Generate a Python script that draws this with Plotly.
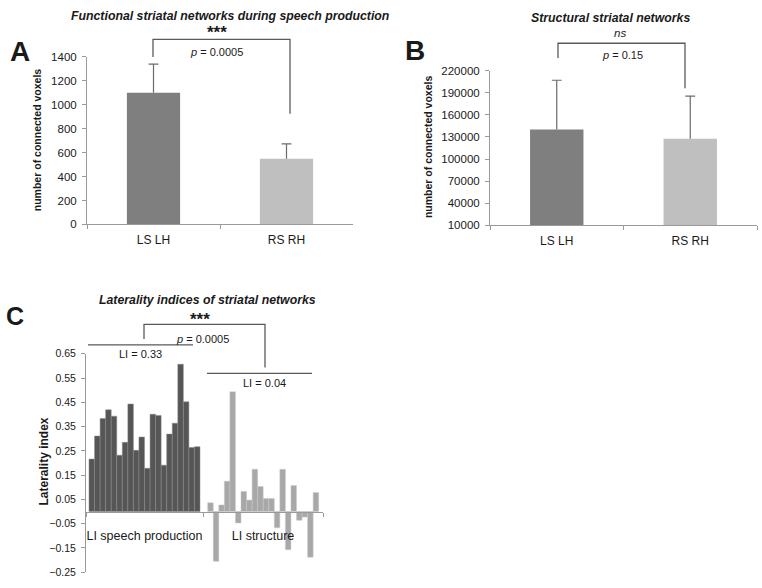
import numpy as np
import plotly.graph_objects as go

W, H = 762, 588

# ---------------- data ----------------
groups_ab = ["LS LH", "RS RH"]
func_means = [1100, 550]
func_err = [240, 123]
struct_means = [140000, 127500]
struct_err = [67000, 58000]

li_speech = [0.216, 0.311, 0.383, 0.419, 0.393, 0.232, 0.285, 0.443, 0.252, 0.307,
             0.178, 0.401, 0.396, 0.191, 0.319, 0.364, 0.607, 0.452, 0.264, 0.267]
li_structure = [0.036, -0.205, 0.027, 0.125, 0.493, -0.047, 0.083, 0.047, 0.174, 0.103,
                0.054, 0.054, -0.067, 0.174, -0.157, 0.107, -0.036, -0.023, -0.188, 0.078]
c_categories = ["LI speech production", "LI structure"]

A_ticks = list(range(0, 1401, 200))
B_ticks = list(range(10000, 220001, 30000))
C_ticks = [round(-0.25 + 0.1 * k, 2) for k in range(10)]

# ---------------- helpers ----------------
def px(x):
    return x / W

def py(y):
    return 1 - y / H

FONT = "Liberation Sans, Arial, sans-serif"
TXT = "#1a1a1a"
AXC = "#9a9a9a"
DARK_A, LIGHT_A = "#7f7f7f", "#bfbfbf"
DARK_C, LIGHT_C = "#565656", "#a8a8a8"
BRK = "#5a5a5a"
ERRC = "#6a6a6a"

fig = go.Figure()

# Panel A
fig.add_trace(go.Bar(
    x=groups_ab, y=func_means, width=0.4,
    marker=dict(color=[DARK_A, LIGHT_A], line=dict(width=0)),
    error_y=dict(type="data", array=func_err, arrayminus=[0, 0], symmetric=False,
                 color=ERRC, thickness=1.2, width=0),
    xaxis="x", yaxis="y", showlegend=False, hoverinfo="skip"))
fig.add_trace(go.Scatter(
    x=groups_ab, y=[m + e for m, e in zip(func_means, func_err)], mode="markers",
    marker=dict(symbol="line-ew", size=7, line=dict(color=ERRC, width=1.2)),
    xaxis="x", yaxis="y", showlegend=False, hoverinfo="skip"))

# Panel B
fig.add_trace(go.Bar(
    x=groups_ab, y=struct_means, width=0.4,
    marker=dict(color=[DARK_A, LIGHT_A], line=dict(width=0)),
    error_y=dict(type="data", array=struct_err, arrayminus=[0, 0], symmetric=False,
                 color=ERRC, thickness=1.2, width=0),
    xaxis="x2", yaxis="y2", showlegend=False, hoverinfo="skip"))
fig.add_trace(go.Scatter(
    x=groups_ab, y=[m + e for m, e in zip(struct_means, struct_err)], mode="markers",
    marker=dict(symbol="line-ew", size=7, line=dict(color=ERRC, width=1.2)),
    xaxis="x2", yaxis="y2", showlegend=False, hoverinfo="skip"))

# Panel C  (numeric positions: one unit per bar)
unit_px = 5.55
c_left, c_right = 86, 323
c_range = (c_right - c_left) / unit_px
dark_start = (89 - c_left) / unit_px
light_start = (207.7 - c_left) / unit_px
x_dark = dark_start + np.arange(len(li_speech)) + 0.5
x_light = light_start + np.arange(len(li_structure)) + 0.5
boundary = (203 - c_left) / unit_px

fig.add_trace(go.Bar(
    x=x_dark, y=li_speech, width=1,
    marker=dict(color=DARK_C, line=dict(color="#8a8a8a", width=0.5)),
    xaxis="x3", yaxis="y3", showlegend=False))
fig.add_trace(go.Bar(
    x=x_light, y=li_structure, width=1,
    marker=dict(color=LIGHT_C, line=dict(color="#c8c8c8", width=0.5)),
    xaxis="x3", yaxis="y3", showlegend=False))

tickfont = dict(family=FONT, size=11.5, color=TXT)

ydomA = [py(223), py(52)]
ydomB = [py(224), py(66)]
ydomC = [py(578), py(355)]
c_ymin, c_ymax = -0.25, 0.65
zero_pos = ydomC[0] + (0 - c_ymin) / (c_ymax - c_ymin) * (ydomC[1] - ydomC[0])

fig.update_layout(
    width=W, height=H, autosize=False,
    margin=dict(l=0, r=0, t=0, b=0),
    paper_bgcolor="white", plot_bgcolor="white",
    font=dict(family=FONT, color=TXT),
    xaxis=dict(domain=[px(87), px(353)], anchor="y", type="category",
               showline=True, linecolor=AXC, linewidth=1, ticks="outside",
               tickson="boundaries", ticklen=4, tickcolor=AXC,
               tickfont=dict(family=FONT, size=12, color=TXT), ticklabelstandoff=4,
               showgrid=False, zeroline=False),
    yaxis=dict(domain=ydomA, anchor="x", range=[0, 1400], tickvals=A_ticks,
               showline=True, linecolor=AXC, linewidth=1, ticks="outside",
               ticklen=4, tickcolor=AXC, tickfont=tickfont, ticklabelstandoff=3,
               showgrid=False, zeroline=False),
    xaxis2=dict(domain=[px(490), px(757)], anchor="y2", type="category",
                showline=True, linecolor=AXC, linewidth=1, ticks="outside",
                tickson="boundaries", ticklen=4, tickcolor=AXC,
                tickfont=dict(family=FONT, size=12, color=TXT), ticklabelstandoff=4,
                showgrid=False, zeroline=False),
    yaxis2=dict(domain=ydomB, anchor="x2", range=[10000, 220000], tickvals=B_ticks,
                tickformat="d",
                showline=True, linecolor=AXC, linewidth=1, ticks="outside",
                ticklen=4, tickcolor=AXC, tickfont=tickfont, ticklabelstandoff=3,
                showgrid=False, zeroline=False),
    xaxis3=dict(domain=[px(c_left), px(c_right)], anchor="free", position=zero_pos,
                range=[0, c_range],
                tickvals=[boundary / 2, (boundary + c_range) / 2], ticktext=c_categories,
                ticks="", showline=True, linecolor=AXC, linewidth=1,
                minor=dict(tickvals=[0, boundary, c_range], ticks="outside",
                           ticklen=4, tickcolor=AXC),
                tickfont=dict(family=FONT, size=12.5, color=TXT), ticklabelstandoff=12,
                showgrid=False, zeroline=False),
    yaxis3=dict(domain=ydomC, anchor="x3", range=[c_ymin, c_ymax], tickvals=C_ticks,
                tickformat=".2f", showline=True, linecolor=AXC, linewidth=1,
                ticks="outside", ticklen=4, tickcolor=AXC,
                tickfont=dict(family=FONT, size=10.5, color=TXT), ticklabelstandoff=3,
                showgrid=False, zeroline=False),
)

# bracket / line decorations (pixel coords -> paper)
def path(points):
    return "M " + " L ".join(f"{px(x):.5f},{py(y):.5f}" for x, y in points)

shapes = []
for pts in [
    [(153, 52), (153, 34), (290, 34), (290, 110)],
    [(558, 53), (558, 38), (685, 38), (685, 84)],
    [(144, 340), (144, 325), (265, 325), (265, 369)],
    [(88, 346), (193, 346)],
    [(207, 375), (312, 375)],
]:
    shapes.append(dict(type="path", path=path(pts), xref="paper", yref="paper",
                       line=dict(color=BRK, width=1.3)))
fig.update_layout(shapes=shapes)

def ann(text, x, y, size=11, angle=0, color=TXT):
    fig.add_annotation(text=text, x=px(x), y=py(y), xref="paper", yref="paper",
                       showarrow=False, xanchor="center", yanchor="middle",
                       textangle=angle, font=dict(family=FONT, size=size, color=color))

TS = 12.3
ann("<b><i>Functional striatal networks during speech production</i></b>", 230, 10, TS)
ann("<b>***</b>", 217, 27, 17)
ann("<i>p</i> = 0.0005", 217, 47, 11)
ann("<b>A</b>", 20, 46, 28)
ann("<b>number of connected voxels</b>", 37, 137, 10.5, -90)

ann("<b><i>Structural striatal networks</i></b>", 610, 12, TS)
ann("<i>ns</i>", 620, 28, 11.5)
ann("<i>p</i> = 0.15", 622, 50, 11)
ann("<b>B</b>", 415, 45, 28)
ann("<b>number of connected voxels</b>", 428, 144, 10.5, -90)

ann("<b><i>Laterality indices of striatal networks</i></b>", 207, 300, TS)
ann("<b>***</b>", 200, 320, 17)
ann("<i>p</i> = 0.0005", 202, 340, 11)
ann("LI = 0.33", 140, 355, 11)
ann("LI = 0.04", 264, 385, 11)
ann("<b>C</b>", 15, 316, 25)
ann("<b>Laterality index</b>", 44, 465, 12, -90)

fig.write_html("out.html", config={"displayModeBar": False},
               post_script="document.body.style.margin='0';document.body.style.overflow='hidden';")
